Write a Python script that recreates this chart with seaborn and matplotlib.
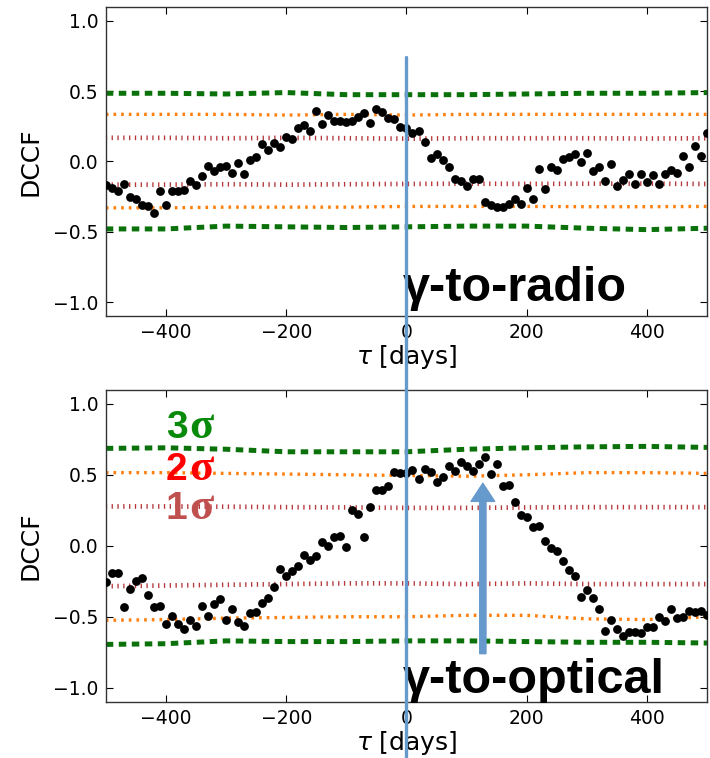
import numpy as np
import pandas as pd
import matplotlib
matplotlib.use("Agg")
import matplotlib.pyplot as plt
import matplotlib.transforms as mtransforms
from matplotlib.lines import Line2D
import seaborn as sns

# ---------------- data ----------------
tau = list(range(-500, 501, 10))

dccf_radio = [
    -0.17, -0.19, -0.21, -0.16, -0.25, -0.27, -0.31, -0.32, -0.37, -0.21,
    -0.31, -0.21, -0.21, -0.205, -0.14, -0.165, -0.10, -0.03, -0.07, -0.04,
    -0.03, -0.08, -0.01, -0.09, 0.01, 0.035, 0.125, 0.085, 0.13, 0.10,
    0.175, 0.16, 0.235, 0.26, 0.215, 0.36, 0.265, 0.33, 0.285, 0.285,
    0.28, 0.285, 0.315, 0.345, 0.275, 0.375, 0.35, 0.31, 0.30, 0.245,
    0.24,
    0.20, 0.215, 0.137, 0.026, 0.052, 0.010, -0.040, -0.123, -0.137, -0.175,
    -0.128, -0.126, -0.286, -0.312, -0.322, -0.322, -0.30, -0.265, -0.30, -0.189,
    -0.265, -0.057, -0.198, -0.040, -0.059, 0.019, 0.033, 0.052, -0.005, 0.061,
    -0.068, -0.040, -0.142, -0.021, -0.175, -0.132, -0.092, -0.163, -0.087, -0.144,
    -0.099, -0.163, -0.092, -0.064, -0.085, 0.037, -0.040, 0.109, 0.037, 0.203,
]

dccf_optical = [
    -0.255, -0.194, -0.194, -0.430, -0.307, -0.248, -0.225, -0.350, -0.430, -0.426,
    -0.551, -0.492, -0.551, -0.584, -0.520, -0.565, -0.421, -0.497, -0.409, -0.376,
    -0.520, -0.449, -0.537, -0.563, -0.477, -0.466, -0.400, -0.371, -0.291, -0.165,
    -0.210, -0.175, -0.146, -0.062, -0.099, -0.075, 0.028, -0.005, 0.059, 0.068,
    -0.012, 0.255, 0.222, 0.061, 0.270, 0.390, 0.390, 0.421, 0.520, 0.515,
    0.515,
    0.532, 0.470, 0.539, 0.520, 0.447, 0.485, 0.565, 0.525, 0.591, 0.560,
    0.525, 0.579, 0.622, 0.504, 0.574, 0.421, 0.425, 0.307, 0.220, 0.206,
    0.130, 0.139, 0.033, -0.019, -0.035, -0.106, -0.172, -0.210, -0.359, -0.314,
    -0.371, -0.449, -0.598, -0.525, -0.589, -0.638, -0.610, -0.610, -0.614, -0.572,
    -0.572, -0.501, -0.532, -0.442, -0.511, -0.501, -0.461, -0.470, -0.461, -0.485,
]

# significance levels, sampled every 100 days
tau_sig = [-500, -400, -300, -200, -100, 0, 100, 200, 300, 400, 500]

radio_3s_up = [0.485, 0.485, 0.48, 0.49, 0.475, 0.475, 0.475, 0.48, 0.485, 0.485, 0.49]
radio_2s_up = [0.335, 0.335, 0.335, 0.33, 0.335, 0.33, 0.335, 0.335, 0.335, 0.335, 0.335]
radio_1s_up = [0.168, 0.168, 0.165, 0.168, 0.165, 0.162, 0.165, 0.165, 0.165, 0.163, 0.165]
radio_1s_lo = [-0.165, -0.165, -0.162, -0.165, -0.162, -0.16, -0.158, -0.16, -0.158, -0.158, -0.16]
radio_2s_lo = [-0.33, -0.33, -0.325, -0.325, -0.325, -0.32, -0.32, -0.32, -0.322, -0.322, -0.32]
radio_3s_lo = [-0.48, -0.48, -0.46, -0.465, -0.47, -0.465, -0.46, -0.46, -0.475, -0.485, -0.475]

opt_3s_up = [0.686, 0.69, 0.68, 0.662, 0.662, 0.662, 0.68, 0.69, 0.697, 0.70, 0.693]
opt_2s_up = [0.515, 0.515, 0.51, 0.505, 0.50, 0.495, 0.49, 0.50, 0.515, 0.515, 0.51]
opt_1s_up = [0.277, 0.277, 0.275, 0.272, 0.27, 0.267, 0.267, 0.27, 0.272, 0.272, 0.272]
opt_1s_lo = [-0.285, -0.28, -0.275, -0.27, -0.265, -0.265, -0.27, -0.265, -0.27, -0.27, -0.27]
opt_2s_lo = [-0.525, -0.52, -0.51, -0.505, -0.50, -0.50, -0.49, -0.49, -0.515, -0.52, -0.50]
opt_3s_lo = [-0.695, -0.69, -0.67, -0.675, -0.675, -0.67, -0.67, -0.675, -0.68, -0.68, -0.685]

panel_labels = ["\u03b3-to-radio", "\u03b3-to-optical"]
sigma_labels = ["3", "2", "1"]
xticks = [-400, -200, 0, 200, 400]
yticks = [-1.0, -0.5, 0.0, 0.5, 1.0]

# ---------------- style ----------------
sns.set_theme(style="ticks", rc={
    "xtick.direction": "in", "ytick.direction": "in",
    "xtick.major.size": 5, "ytick.major.size": 5,
    "xtick.major.width": 0.8, "ytick.major.width": 0.8,
    "axes.edgecolor": "#333333", "axes.linewidth": 1.0,
    "text.color": "black", "axes.labelcolor": "black",
    "xtick.color": "black", "ytick.color": "black",
})
plt.rcParams["font.family"] = ["DejaVu Sans"]
plt.rcParams["mathtext.fontset"] = "dejavusans"

GREEN = "#0b720b"
ORANGE = "#ff7f0e"
RED = "#b5383b"
BLUE = "#6699cc"

fig = plt.figure(figsize=(7.10, 7.58), dpi=100)
ax1 = fig.add_axes([0.149, 0.583, 0.847, 0.408])
ax2 = fig.add_axes([0.149, 0.074, 0.847, 0.412])

sig_style = [
    (GREEN, 3.6, (0, (1.5, 1.1))),
    (ORANGE, 2.4, (0, (0.8, 1.5))),
    (RED, 3.4, (0, (0.28, 0.95))),
]


def draw_panel(ax, values, sig_sets):
    for (levels_up, levels_lo), (col, lw, ls) in zip(sig_sets, sig_style):
        for lev in (levels_up, levels_lo):
            sns.lineplot(x=tau_sig, y=lev, ax=ax, color=col, linewidth=lw,
                         linestyle=ls, zorder=2)
    sns.scatterplot(x=tau, y=values, ax=ax, color="black", s=40,
                    linewidth=0, zorder=3)
    ax.set_xlim(-500, 500)
    ax.set_ylim(-1.1, 1.1)
    ax.set_xticks(xticks)
    ax.set_yticks(yticks)
    ax.set_yticklabels([f"{v:.1f}".replace("-", "\u2212") for v in yticks])
    ax.tick_params(labelsize=13.5, top=True, right=True, pad=5)
    ax.set_xlabel(r"$\tau$ [days]", fontsize=18, labelpad=1)
    ax.set_ylabel("DCCF", fontsize=18, labelpad=8)
    for sp in ax.spines.values():
        sp.set_visible(True)


draw_panel(ax1, dccf_radio, [(radio_3s_up, radio_3s_lo), (radio_2s_up, radio_2s_lo),
                             (radio_1s_up, radio_1s_lo)])
draw_panel(ax2, dccf_optical, [(opt_3s_up, opt_3s_lo), (opt_2s_up, opt_2s_lo),
                               (opt_1s_up, opt_1s_lo)])

# panel annotations
ax1.text(-6, -0.99, panel_labels[0], fontsize=35, fontweight="bold", color="black",
         family="Liberation Sans", va="baseline", ha="left", zorder=5)
ax2.text(-6, -1.04, panel_labels[1], fontsize=35, fontweight="bold", color="black",
         family="Liberation Sans", va="baseline", ha="left", zorder=5)

# sigma labels
sig_cols = ["#0a8a0a", "#ff0000", "#c0504d"]
sig_y = [0.76, 0.46, 0.19]
for lab, col, yy in zip(sigma_labels, sig_cols, sig_y):
    ax2.text(-400, yy, lab, fontsize=28, fontweight="bold", family="Liberation Sans",
             color=col, va="baseline", ha="left", zorder=5)
    ax2.annotate("\u03c3", xy=(-400, yy), xytext=(16.5, 0), textcoords="offset points",
                 fontsize=32, fontweight="bold", family="Liberation Serif",
                 color=col, va="baseline", ha="left", zorder=5)

# arrow in optical panel
ax2.annotate("", xy=(127, 0.44), xytext=(127, -0.76),
             arrowprops=dict(arrowstyle="simple,head_length=13,head_width=17,tail_width=4.5",
                             mutation_scale=1, color=BLUE, shrinkA=0, shrinkB=0),
             zorder=6)

# vertical blue line at tau = 0 spanning both panels
trans = mtransforms.blended_transform_factory(ax1.transData, fig.transFigure)
fig.add_artist(Line2D([0, 0], [0.0, 0.925], transform=trans, color=BLUE,
                      linewidth=2.4, zorder=10))

fig.savefig("out.png", dpi=100)
